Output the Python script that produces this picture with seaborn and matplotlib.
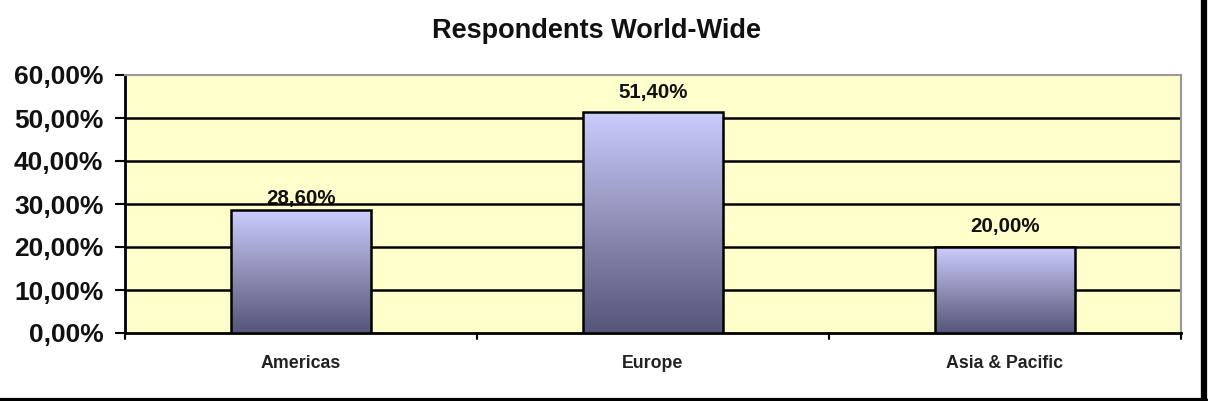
import matplotlib
matplotlib.use("Agg")
import matplotlib.pyplot as plt
import numpy as np
import pandas as pd
import seaborn as sns
from matplotlib.lines import Line2D
from matplotlib.colors import LinearSegmentedColormap

categories = ["Americas", "Europe", "Asia & Pacific"]
values = [28.60, 51.40, 20.00]
bar_labels = ["28,60%", "51,40%", "20,00%"]
yticks = [0, 10, 20, 30, 40, 50, 60]
ytick_labels = ["0,00%", "10,00%", "20,00%", "30,00%", "40,00%", "50,00%", "60,00%"]
title = "Respondents World-Wide"
label_offsets_pt = [8, 13.7, 14.8]  # vertical offset of value labels above bars

sns.set_theme(style="white")
plt.rcParams['font.family'] = ['Liberation Sans', 'DejaVu Sans']

fig = plt.figure(figsize=(12.18, 4.01), dpi=100)
ax = fig.add_axes([125/1218, 1-333/401, (1181-125)/1218, (333-75)/401])
ax.set_facecolor("#FFFFCC")

df = pd.DataFrame({"cat": categories, "val": values})
sns.barplot(data=df, x="cat", y="val", ax=ax, width=0.4, color="#CCCCFF",
            edgecolor="black", linewidth=1.8, zorder=3)

# gradient fill
grad = np.linspace(0, 1, 256).reshape(-1, 1)
cmap = LinearSegmentedColormap.from_list("g", ["#55557A", "#9090B8", "#CCCCFF"])
for p in ax.patches:
    x0, y0 = p.get_x(), p.get_y()
    w, h = p.get_width(), p.get_height()
    im = ax.imshow(grad, extent=[x0, x0 + w, y0, y0 + h], origin="lower",
                   cmap=cmap, aspect="auto", zorder=3.5)
    im.set_clip_path(p)
    p.set_facecolor("none")
    p.set_zorder(4)

ax.set_xlim(-0.5, 2.5)
ax.set_ylim(0, 60)
ax.set_yticks(yticks)
ax.set_yticklabels(ytick_labels, fontsize=19, fontweight="bold", color="#111111")
for y in yticks[1:-1]:
    ax.axhline(y, color="black", lw=1.8, zorder=1)

ax.set_xticks([0, 1, 2])
ax.set_xticklabels(categories, fontsize=12.8, fontweight="bold", color="#222222")
ax.tick_params(axis="x", length=0, pad=16)
ax.tick_params(axis="y", length=7, width=1.5, color="black", direction="out", left=True, pad=8.5)
for xb in [-0.5, 0.5, 1.5, 2.5]:
    ax.plot([xb, xb], [0, -1.4], color="black", lw=1.5, clip_on=False, zorder=5)

ax.set_xlabel("")
ax.set_ylabel("")

for i, (v, lab, off) in enumerate(zip(values, bar_labels, label_offsets_pt)):
    ax.annotate(lab, (i, v), xytext=(0, off), textcoords="offset points",
                ha="center", va="center", fontsize=14.8, fontweight="bold",
                color="#111111", zorder=0.5)

for side in ["left", "bottom"]:
    ax.spines[side].set_color("black")
    ax.spines[side].set_linewidth(2)
for side in ["top", "right"]:
    ax.spines[side].set_color("#999999")
    ax.spines[side].set_linewidth(1.5)

fig.text(597/1218, 1-31/401, title, ha="center", va="center", fontsize=19.5, fontweight="bold",
         color="#111111")

# frame with shadow
fig.add_artist(Line2D([1200.5/1218, 1200.5/1218], [0, 1], color="#888888", lw=0.8, transform=fig.transFigure))
fig.add_artist(Line2D([1204/1218, 1204/1218], [0, 1], color="black", lw=4.5, transform=fig.transFigure))
fig.add_artist(Line2D([0, 1206/1218], [1.5/401, 1.5/401], color="black", lw=3, transform=fig.transFigure))

fig.savefig("out.png", dpi=100)
